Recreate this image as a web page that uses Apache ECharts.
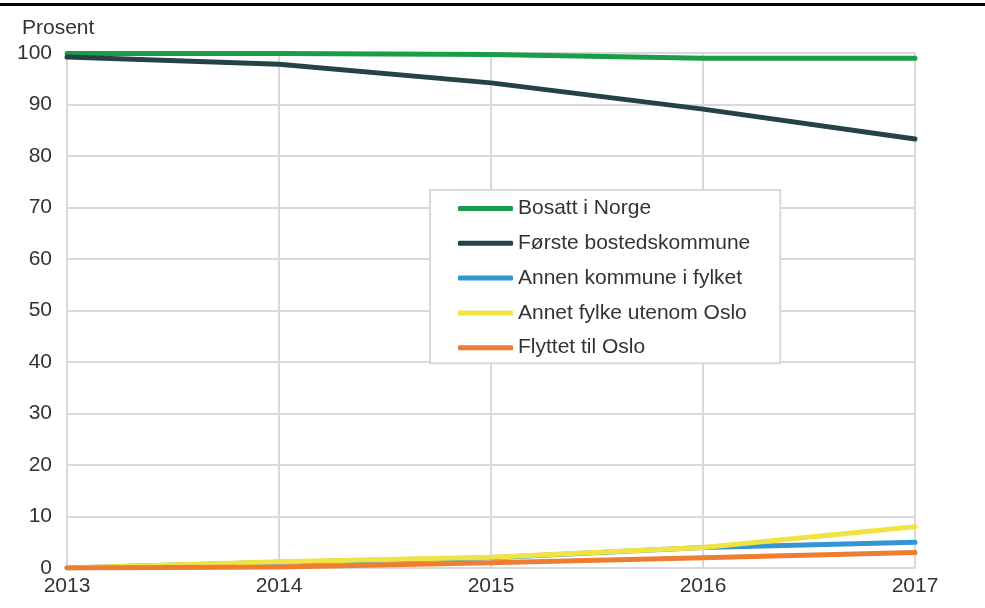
<!DOCTYPE html>
<html><head><meta charset="utf-8">
<script src="https://cdn.jsdelivr.net/npm/echarts@6/dist/echarts.min.js"></script>
<style>html,body{margin:0;padding:0;background:#fff}#c{width:985px;height:608px}</style>
</head><body><div id="c"></div>
<script>
var years = ['2013','2014','2015','2016','2017'];
var bosattNorge = [99.9, 99.9, 99.7, 99.0, 99.0];
var forsteKommune = [99.2, 97.8, 94.2, 89.1, 83.3];
var annenKommune = [0.0, 1.1, 2.0, 4.0, 5.0];
var annetFylke = [0.0, 1.2, 2.1, 4.0, 8.0];
var flyttetOslo = [0.0, 0.2, 1.0, 2.0, 3.0];
var names = ['Bosatt i Norge','Første bostedskommune','Annen kommune i fylket','Annet fylke utenom Oslo','Flyttet til Oslo'];
var colors = ['#1a9d49','#274247','#3396d3','#f0e442','#ed7d31'];
var dataSets = [bosattNorge, forsteKommune, annenKommune, annetFylke, flyttetOslo];
var font = 'Liberation Sans, Arial, sans-serif';
var chart = echarts.init(document.getElementById('c'));
chart.setOption({
  animation: false,
  grid: {left: 67, right: 70, top: 53, bottom: 40},
  graphic: [{type:'rect', shape:{x:0,y:3,width:985,height:3}, style:{fill:'#000'}}],
  xAxis: {type:'category', data: years, boundaryGap:false,
    axisLine:{show:true, lineStyle:{color:'#d9d9d9', width:2}},
    axisTick:{show:false},
    splitLine:{show:true, lineStyle:{color:'#d9d9d9', width:2}},
    axisLabel:{color:'#333', fontSize:21, fontFamily:font, margin:8}},
  yAxis: {type:'value', min:0, max:100, interval:10, name:'Prosent',
    nameLocation:'end', nameGap:14, nameTextStyle:{color:'#333', fontSize:21, fontFamily:font, align:'left', padding:[0,0,0,-45]},
    axisLine:{show:false}, axisTick:{show:false},
    splitLine:{lineStyle:{color:'#d9d9d9', width:2}},
    axisLabel:{color:'#333', fontSize:21, fontFamily:font, margin:15}},
  legend: {orient:'vertical', left:430, top:190, data: names,
    backgroundColor:'#fff', borderColor:'#d9d9d9', borderWidth:2,
    padding:[8,30,5,28], itemGap:13.8, itemWidth:55, itemHeight:5,
    icon:'roundRect',
    textStyle:{color:'#333', fontSize:21, fontFamily:font}},
  series: dataSets.map(function(d, i){ return {
    name: names[i], type:'line', data: d, symbol:'none',
    lineStyle:{color:colors[i], width:5, cap:'round'},
    itemStyle:{color:colors[i]}, z: 2 + i
  };})
});
</script></body></html>
